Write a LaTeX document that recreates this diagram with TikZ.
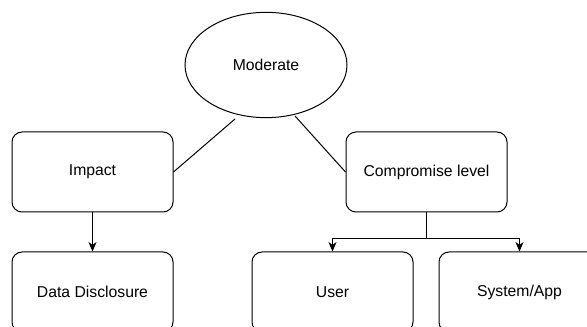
\documentclass[tikz,border=0pt]{standalone}
\usepackage{fontspec}
\setmainfont{Liberation Sans}
\usetikzlibrary{shapes.geometric,arrows.meta}

\tikzset{
  lvlbox/.style={draw, rounded corners=7.5pt, minimum width=120.75pt, minimum height=60pt, inner sep=0.75pt, line width=0.75pt},
  rootell/.style={draw, ellipse, minimum width=121.5pt, minimum height=79pt, inner sep=0.75pt, line width=0.75pt},
  arr/.style={-{Stealth[length=7pt,width=6pt,inset=2pt]}, line width=0.75pt},
  link/.style={line width=0.75pt}
}

\begin{document}
\begin{tikzpicture}[x=0.75pt,y=0.75pt,yscale=-1,xscale=1,font=\fontsize{11.8}{14}\selectfont]
\useasboundingbox (0,0) rectangle (587,327);
\clip (0,0) rectangle (587,327);

%Shape: Ellipse [id:root]
\node [rootell] (mod) at (266,65) {Moderate};

%Shape: Rounded Rect [id:impact]
\node [lvlbox] (imp) at (92.5,172) {Impact};
%Shape: Rounded Rect [id:compromise]
\node [lvlbox] (comp) at (426.5,172) {Compromise level};

%Shape: Rounded Rect [id:disclosure]
\node [lvlbox] (dd) at (92.5,292) {Data Disclosure};
%Shape: Rounded Rect [id:user]
\node [lvlbox] (usr) at (332.5,292) {User};
%Shape: Rounded Rect [id:sysapp]
\node [lvlbox] (sys) at (519.5,292) {System/App};

% free ends under the ellipse
\coordinate (ml) at (235,119);
\coordinate (mr) at (295,116);
\coordinate (split) at (426.5,239);

%Straight Lines [id:root-impact]
\draw [link] (ml) -- (imp.east);
%Straight Lines [id:root-compromise]
\draw [link] (mr) -- (comp.west);

%Straight Lines [id:impact-disclosure]
\draw [arr] (imp) -- (dd);
%Connector [id:compromise-user]
\draw [link] (comp) -- (split);
\draw [arr] (split) -| (usr);
%Connector [id:compromise-sysapp]
\draw [arr] (split) -| (sys);

\end{tikzpicture}
\end{document}
